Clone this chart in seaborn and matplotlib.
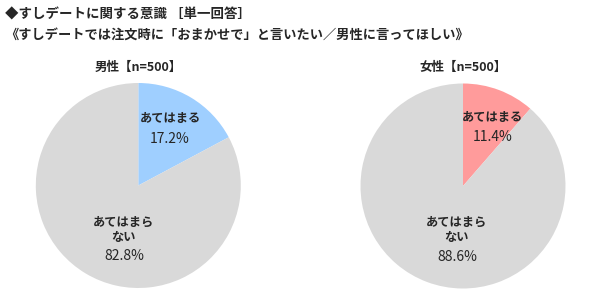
import matplotlib
matplotlib.use("Agg")
import matplotlib.pyplot as plt
import seaborn as sns

sns.set_theme(style="white")
plt.rcParams['font.family'] = ['Noto Sans CJK JP', 'DejaVu Sans']

title1 = "◆すしデートに関する意識 ［単一回答］"
title2 = "《すしデートでは注文時に「おまかせで」と言いたい／男性に言ってほしい》"
groups = ["男性【n=500】", "女性【n=500】"]
categories = ["あてはまる", "あてはまら\nない"]
values_male = [17.2, 82.8]
values_female = [11.4, 88.6]
colors_male = ["#9FCFFF", "#D9D9D9"]
colors_female = ["#FF9B9B", "#D9D9D9"]

W, H = 600, 293
fig = plt.figure(figsize=(W / 100, H / 100), dpi=100)
fig.patch.set_facecolor("white")

fig.text(5 / W, 1 - 15 / H, title1, fontsize=9.7, fontweight="bold", va="center", ha="left")
fig.text(5 / W, 1 - 35 / H, title2, fontsize=9.5, fontweight="bold", va="center", ha="left")

r = 102.5
specs = [
    (138.3, 185.5, values_male, colors_male, groups[0], (0.31, 0.65, 0.45), (-0.14, -0.43, -0.69)),
    (463.0, 186.0, values_female, colors_female, groups[1], (0.29, 0.67, 0.48), (-0.06, -0.43, -0.69)),
]

for cx, cy, vals, cols, grp, lab1, lab2 in specs:
    ax = fig.add_axes([(cx - r) / W, (H - cy - r) / H, 2 * r / W, 2 * r / H])
    ax.pie(vals, colors=cols, startangle=90, counterclock=False,
           wedgeprops=dict(linewidth=0))
    ax.set_xlim(-1, 1)
    ax.set_ylim(-1, 1)
    ax.set_aspect("equal")
    ax.axis("off")
    # group title
    fig.text(cx / W, 1 - 67 / H, grp, fontsize=9, fontweight="bold", ha="center", va="center")
    # slice labels
    x, y1, y2 = lab1
    ax.text(x, y1, categories[0], fontsize=8.8, fontweight="bold", ha="center", va="center")
    ax.text(x, y2, f"{vals[0]:.1f}%", fontsize=10, ha="center", va="center")
    x, y1, y2 = lab2
    ax.text(x, y1, categories[1], fontsize=8.8, fontweight="bold", ha="center", va="center",
            linespacing=1.25)
    ax.text(x, y2, f"{vals[1]:.1f}%", fontsize=10, ha="center", va="center")

fig.savefig("out.png", dpi=100, facecolor="white")
